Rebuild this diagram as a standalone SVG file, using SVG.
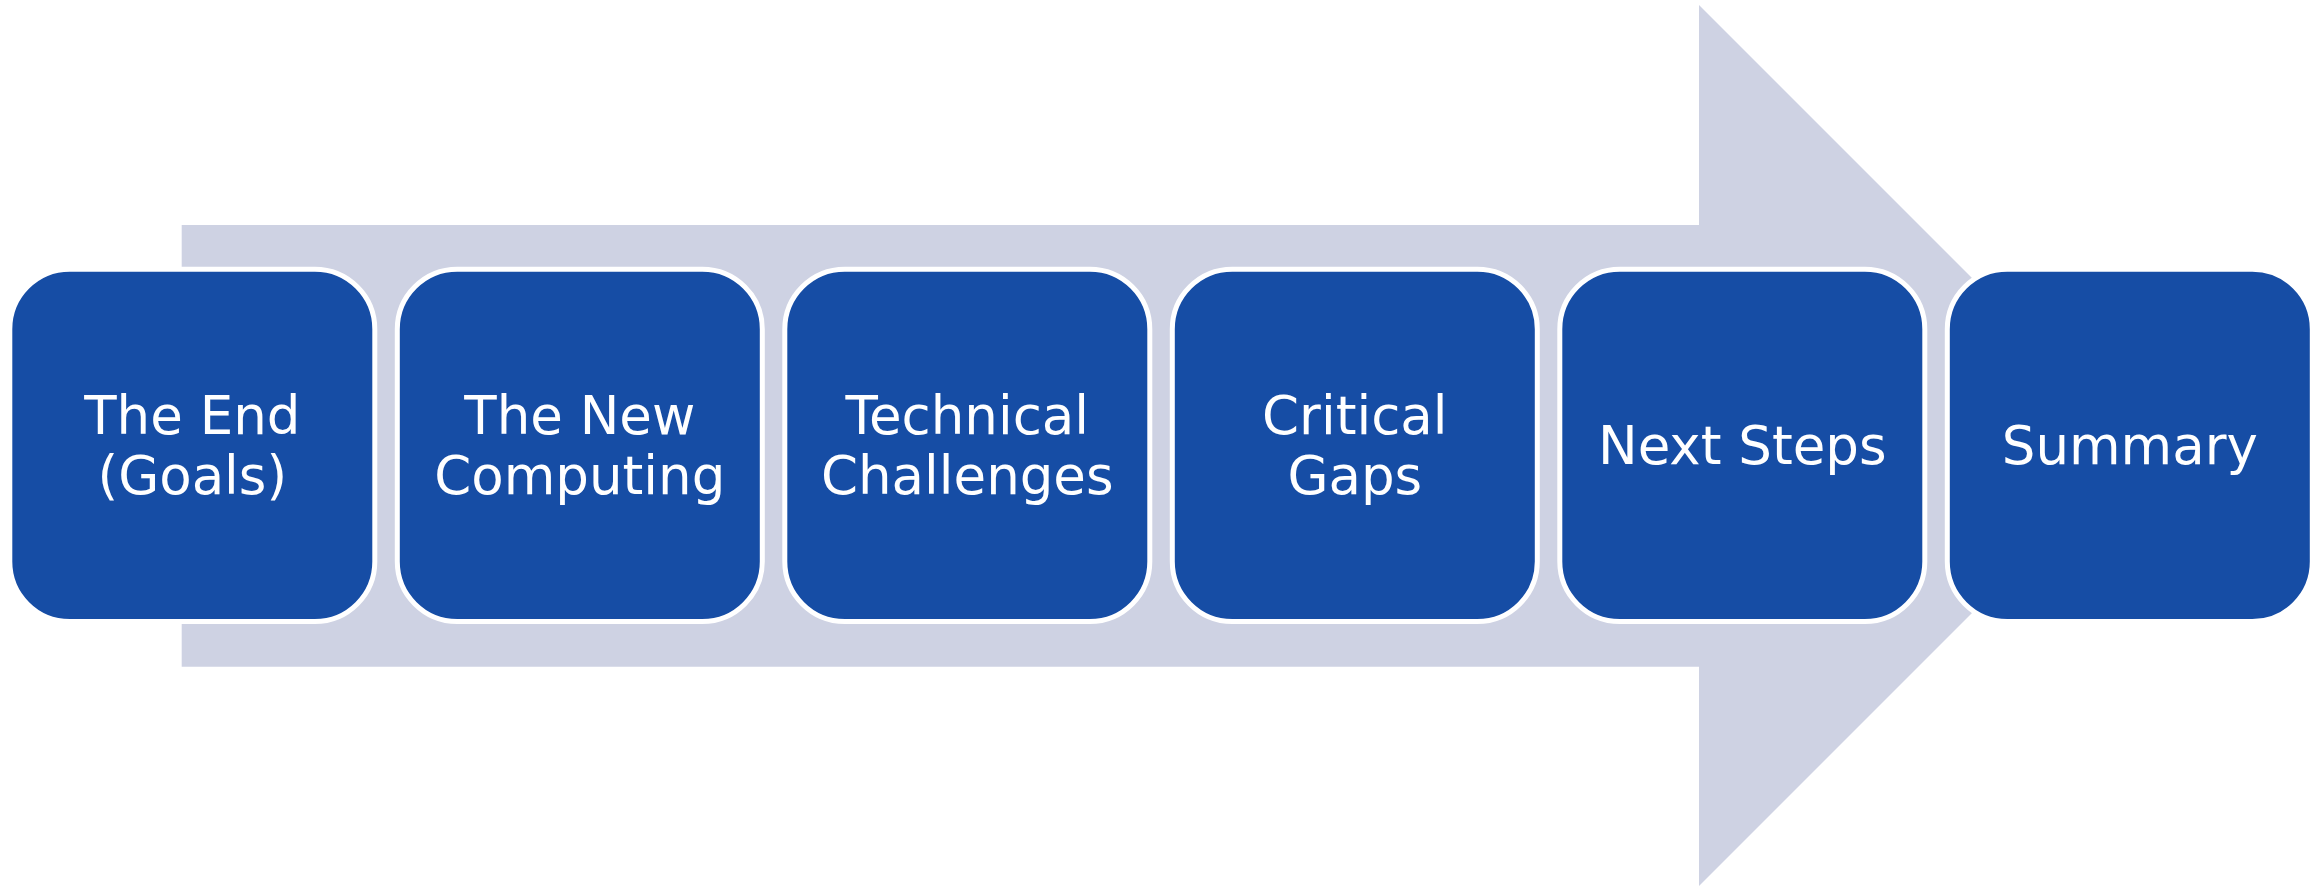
<svg xmlns="http://www.w3.org/2000/svg" width="2323" height="886" viewBox="0 0 2323 886">
<style>
.box{fill:#164DA5;stroke:#FFFFFF;stroke-width:5}
.lbl{font-family:"DejaVu Sans","Liberation Sans",sans-serif;font-size:53px;fill:#FFFFFF;text-anchor:middle}
</style>
<rect width="2323" height="886" fill="#FFFFFF"/>
<g id="connectors">
<polygon id="arrow" points="181.7,225 1699,225 1699,5 2139.5,445.5 1699,886 1699,666.7 181.7,666.7" fill="#CED2E3"/>
</g>
<g id="node1">
<rect class="box" x="9.8" y="269.2" width="365" height="352.3" rx="60" ry="60"/>
<text class="lbl" x="192.3" y="433.5">The End</text>
<text class="lbl" x="192.3" y="493.5">(Goals)</text>
</g>
<g id="node2">
<rect class="box" x="397.3" y="269.2" width="365" height="352.3" rx="60" ry="60"/>
<text class="lbl" x="579.8" y="433.5">The New</text>
<text class="lbl" x="579.8" y="493.5">Computing</text>
</g>
<g id="node3">
<rect class="box" x="784.8" y="269.2" width="365" height="352.3" rx="60" ry="60"/>
<text class="lbl" x="967.3" y="433.5">Technical</text>
<text class="lbl" x="967.3" y="493.5">Challenges</text>
</g>
<g id="node4">
<rect class="box" x="1172.3" y="269.2" width="365" height="352.3" rx="60" ry="60"/>
<text class="lbl" x="1354.8" y="433.5">Critical</text>
<text class="lbl" x="1354.8" y="493.5">Gaps</text>
</g>
<g id="node5">
<rect class="box" x="1559.8" y="269.2" width="365" height="352.3" rx="60" ry="60"/>
<text class="lbl" x="1742.3" y="463.5">Next Steps</text>
</g>
<g id="node6">
<rect class="box" x="1947.3" y="269.2" width="365" height="352.3" rx="60" ry="60"/>
<text class="lbl" x="2129.8" y="463.5">Summary</text>
</g>
</svg>
